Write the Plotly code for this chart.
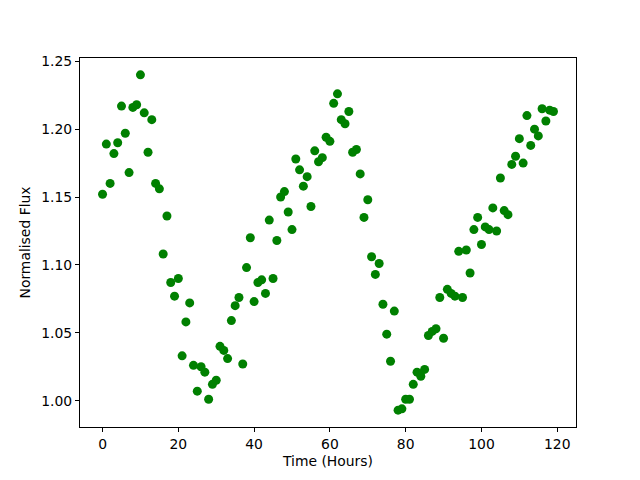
import plotly.graph_objects as go

time_hours = list(range(120))
flux = [
    1.152, 1.189, 1.160, 1.182, 1.190, 1.217, 1.197, 1.168, 1.216, 1.218,
    1.240, 1.212, 1.183, 1.207, 1.160, 1.156, 1.108, 1.136, 1.087, 1.077,
    1.090, 1.033, 1.058, 1.072, 1.026, 1.007, 1.025, 1.021, 1.001, 1.012,
    1.015, 1.040, 1.037, 1.031, 1.059, 1.070, 1.076, 1.027, 1.098, 1.120,
    1.073, 1.087, 1.089, 1.079, 1.133, 1.090, 1.118, 1.150, 1.154, 1.139,
    1.126, 1.178, 1.170, 1.158, 1.165, 1.143, 1.184, 1.176, 1.179, 1.194,
    1.191, 1.219, 1.226, 1.207, 1.204, 1.213, 1.183, 1.185, 1.167, 1.135,
    1.148, 1.106, 1.093, 1.101, 1.071, 1.049, 1.029, 1.066, 0.993, 0.994,
    1.001, 1.001, 1.012, 1.021, 1.018, 1.023, 1.048, 1.051, 1.053, 1.076,
    1.046, 1.082, 1.079, 1.077, 1.110, 1.076, 1.111, 1.094, 1.126, 1.135,
    1.115, 1.128, 1.126, 1.142, 1.125, 1.164, 1.140, 1.137, 1.174, 1.180,
    1.193, 1.175, 1.210, 1.188, 1.200, 1.195, 1.215, 1.206, 1.214, 1.213,
]
x_ticks = [0, 20, 40, 60, 80, 100, 120]
y_ticks = [1.00, 1.05, 1.10, 1.15, 1.20, 1.25]

fig = go.Figure(go.Scatter(
    x=time_hours, y=flux, mode="markers",
    marker=dict(color="#008000", size=9, line=dict(width=0)),
))

axis_common = dict(
    showline=True, linecolor="black", linewidth=1, mirror=True,
    ticks="outside", ticklen=4, tickcolor="black", showgrid=False,
    zeroline=False, tickfont=dict(size=13.9, color="black"),
)
fig.update_layout(
    width=640, height=480,
    margin=dict(l=72, r=72, t=50, b=61),
    paper_bgcolor="white", plot_bgcolor="white",
    font=dict(family="DejaVu Sans", size=13.9, color="black"),
    showlegend=False,
    xaxis=dict(range=[-5.95, 124.95], tickvals=x_ticks,
               ticktext=[str(v) for v in x_ticks],
               title=dict(text="Time (Hours)", standoff=5, font=dict(size=13.9)),
               **axis_common),
    yaxis=dict(range=[0.9806, 1.2524], tickvals=y_ticks,
               ticktext=[f"{v:.2f}" for v in y_ticks],
               title=dict(text="Normalised Flux", standoff=7, font=dict(size=13.9)),
               **axis_common),
)
fig.write_html("out.html")
